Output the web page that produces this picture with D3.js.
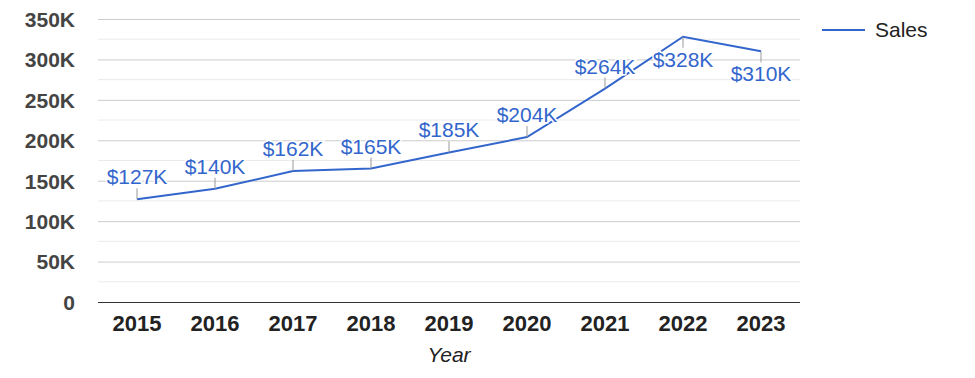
<!DOCTYPE html>
<html>
<head>
<meta charset="utf-8">
<script src="https://cdn.jsdelivr.net/npm/d3@7"></script>
<style>
  body { margin: 0; background: #fff; }
  text { font-family: Arial, "Liberation Sans", sans-serif; }
</style>
</head>
<body>
<div class="canvas"></div>
<script>
// data
const years = ['2015', '2016', '2017', '2018', '2019', '2020', '2021', '2022', '2023']
const sales = [127000, 140000, 162000, 165000, 185000, 204000, 264000, 328000, 310000]
const yTicks = [0, 50000, 100000, 150000, 200000, 250000, 300000, 350000]
const minorTicks = [25000, 75000, 125000, 175000, 225000, 275000, 325000]
const seriesName = 'Sales'
const xTitle = 'Year'

const data = years.map((y, i) => ({ year: y, value: sales[i] }))

// graph dimensions
const dims = { width: 975, height: 378 }
const margins = { top: 19, right: 175, bottom: 76, left: 98 }
const graphDims = {
    width: dims.width - margins.left - margins.right,
    height: dims.height - margins.top - margins.bottom
}

const svg = d3.select('.canvas')
    .append('svg')
    .attr('width', dims.width)
    .attr('height', dims.height)

const graph = svg.append('g')
    .attr('transform', `translate(${margins.left}, ${margins.top})`)

// scales
const x = d3.scaleBand().domain(years).range([0, graphDims.width])
const y = d3.scaleLinear().domain([0, 350000]).range([graphDims.height, 0])
const cx = d => x(d.year) + x.bandwidth() / 2

// minor gridlines
graph.append('g')
    .selectAll('line')
    .data(minorTicks)
    .join('line')
    .attr('x1', 0).attr('x2', graphDims.width)
    .attr('y1', d => y(d)).attr('y2', d => y(d))
    .attr('stroke', '#ebebeb')

// y axis with major gridlines
const yAxis = graph.append('g')
    .call(d3.axisLeft(y)
        .tickValues(yTicks)
        .tickSize(-graphDims.width)
        .tickPadding(23)
        .tickFormat(d => d === 0 ? '0' : d3.format('d')(d / 1000) + 'K'))
yAxis.select('.domain').remove()
yAxis.selectAll('.tick line')
    .attr('stroke', d => d === 0 ? '#333' : '#ccc')
yAxis.selectAll('.tick text')
    .attr('fill', '#444')
    .attr('font-size', 21)
    .attr('font-weight', 'bold')
    .attr('dy', '0.35em')

// x axis
const xAxis = graph.append('g')
    .attr('transform', `translate(0, ${graphDims.height})`)
    .call(d3.axisBottom(x).tickSize(0).tickPadding(13))
xAxis.select('.domain').remove()
xAxis.selectAll('.tick text')
    .attr('fill', '#222')
    .attr('font-size', 22)
    .attr('font-weight', 'bold')

// x title
svg.append('text')
    .attr('x', margins.left + graphDims.width / 2)
    .attr('y', 362)
    .attr('text-anchor', 'middle')
    .attr('font-size', 21)
    .attr('font-style', 'italic')
    .attr('fill', '#222')
    .text(xTitle)

// line
const line = d3.line()
    .x(cx)
    .y(d => y(d.value))

graph.append('path')
    .datum(data)
    .attr('fill', 'none')
    .attr('stroke', '#3366cc')
    .attr('stroke-width', 2)
    .attr('d', line)

// annotations
const below = d => y(d.value) < 35
const ann = graph.append('g')
    .selectAll('g')
    .data(data)
    .join('g')

ann.append('line')
    .attr('x1', cx).attr('x2', cx)
    .attr('y1', d => y(d.value))
    .attr('y2', d => below(d) ? y(d.value) + 11 : y(d.value) - 11)
    .attr('stroke', '#999')

ann.append('text')
    .attr('x', cx)
    .attr('y', d => below(d) ? y(d.value) + 30 : y(d.value) - 15)
    .attr('text-anchor', 'middle')
    .attr('font-size', 21)
    .attr('fill', '#3366cc')
    .attr('stroke', '#fff')
    .attr('stroke-width', 3)
    .attr('paint-order', 'stroke')
    .text(d => '$' + d3.format('d')(d.value / 1000) + 'K')

// legend
const legend = svg.append('g')
    .attr('transform', 'translate(822, 30)')
legend.append('line')
    .attr('x1', 0).attr('x2', 43)
    .attr('stroke', '#3366cc')
    .attr('stroke-width', 2)
legend.append('text')
    .attr('x', 53)
    .attr('y', 7)
    .attr('font-size', 21)
    .attr('fill', '#222')
    .text(seriesName)
</script>
</body>
</html>
